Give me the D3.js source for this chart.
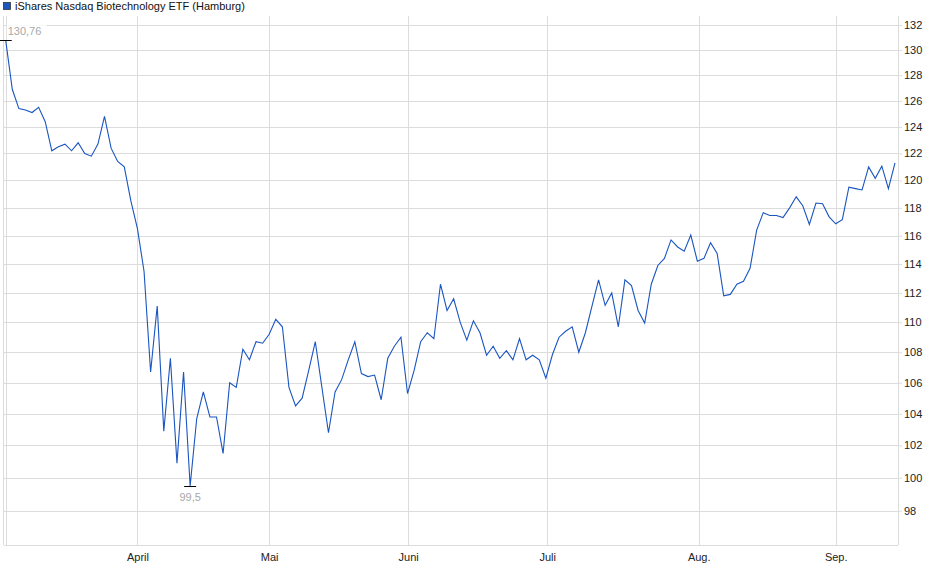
<!DOCTYPE html>
<html><head><meta charset="utf-8">
<script src="https://cdn.jsdelivr.net/npm/d3@7"></script>
<style>body{margin:0;background:#fff}svg{font-family:"Liberation Sans",Arial,sans-serif}</style>
</head><body><svg id="c" width="940" height="579"></svg>
<script>
const title = "iShares Nasdaq Biotechnology ETF (Hamburg)";
const prices = [130.76,126.9,125.4,125.3,125.1,125.5,124.4,122.2,122.5,122.7,
122.2,122.8,122.0,121.8,122.7,124.8,122.4,121.4,121.0,118.5,
116.5,113.5,106.7,111.1,102.9,107.6,100.9,106.7,99.5,103.7,
105.4,103.8,103.8,101.5,106.0,105.7,108.2,107.5,108.7,108.6,
109.2,110.2,109.7,105.7,104.5,105.0,106.8,108.7,105.7,102.8,
105.4,106.2,107.5,108.7,106.6,106.4,106.5,104.9,107.6,108.4,
109.0,105.3,106.8,108.7,109.3,108.9,112.6,110.8,111.6,110.0,
108.8,110.1,109.3,107.8,108.4,107.6,108.1,107.5,108.9,107.5,
107.8,107.5,106.3,107.85,109.0,109.4,109.7,108.0,109.3,111.1,
112.9,111.15,112.0,109.7,112.9,112.5,110.8,109.95,112.6,113.9,
114.4,115.7,115.2,114.9,116.05,114.2,114.4,115.5,114.75,111.8,
111.9,112.6,112.8,113.7,116.4,117.65,117.45,117.45,117.3,118.0,
118.8,118.15,116.8,118.35,118.3,117.35,116.85,117.15,119.5,119.4,
119.3,121.0,120.15,121.05,119.4,121.3];
const monthLabels = ["April","Mai","Juni","Juli","Aug.","Sep."];
const monthIndex = [20,40,61.1,82.2,105.2,126];
const yTicks = d3.range(98,133,2);

const svg = d3.select("#c");
const L=4, R=898, T=16, B=545;
const x = d3.scaleLinear().domain([0,prices.length-1]).range([5.7,895]);
const y = d3.scaleLog().domain([95.96,132.73]).range([B,T]);

const grid = svg.append("g").attr("stroke","#dcdcdc").attr("stroke-width",1).attr("shape-rendering","crispEdges");
yTicks.forEach(t=>grid.append("line").attr("x1",L).attr("x2",R).attr("y1",Math.round(y(t))+0.5).attr("y2",Math.round(y(t))+0.5));
monthIndex.forEach(i=>grid.append("line").attr("y1",T).attr("y2",B).attr("x1",Math.round(x(i))+0.5).attr("x2",Math.round(x(i))+0.5));
grid.append("line").attr("y1",T).attr("y2",B).attr("x1",6.5).attr("x2",6.5);
grid.append("line").attr("y1",T).attr("y2",B).attr("x1",3.5).attr("x2",3.5);
grid.append("line").attr("y1",T).attr("y2",B).attr("x1",R+0.5).attr("x2",R+0.5);
grid.append("line").attr("y1",B+0.5).attr("y2",B+0.5).attr("x1",L).attr("x2",R);

const yAxis = d3.axisRight(y).tickValues(yTicks).tickSize(4).tickFormat(d3.format("d"));
const ya = svg.append("g").attr("transform",`translate(${R},0)`).call(yAxis);
ya.select(".domain").remove();
ya.selectAll("line").attr("stroke","#dcdcdc");
ya.selectAll("text").attr("font-size",11).attr("fill","#222").attr("x",6);

const xAxis = d3.axisBottom(x).tickValues(monthIndex).tickSize(0).tickFormat((d,i)=>monthLabels[i]);
const xa = svg.append("g").attr("transform",`translate(0,${B})`).call(xAxis);
xa.select(".domain").remove();
xa.selectAll("text").attr("font-size",11).attr("fill","#222").attr("dy","1.2em");

svg.append("path").datum(prices).attr("fill","none").attr("stroke","#1a55c0").attr("stroke-width",1.1)
  .attr("d",d3.line().x((d,i)=>x(i)).y(d=>y(d)));

const iMax = d3.maxIndex(prices), iMin = d3.minIndex(prices);
[[iMax,-1],[iMin,1]].forEach(([i,dir])=>{
  svg.append("line").attr("x1",x(i)-6).attr("x2",x(i)+6).attr("y1",Math.round(y(prices[i]))+0.5).attr("y2",Math.round(y(prices[i]))+0.5).attr("stroke","#000");
});
svg.append("rect").attr("x",x(iMax)+1).attr("y",y(prices[iMax])-17).attr("width",40).attr("height",14).attr("fill","#fff").attr("opacity",0.8);
svg.append("text").attr("x",x(iMax)+2).attr("y",y(prices[iMax])-5).attr("font-size",11).attr("fill","#a8a8a8").text(d3.format(",.2f")(prices[iMax]).replace(".",","));
svg.append("text").attr("x",x(iMin)).attr("y",y(prices[iMin])+15).attr("text-anchor","middle").attr("font-size",11).attr("fill","#a8a8a8").text(String(prices[iMin]).replace(".",","));

svg.append("rect").attr("x",3.5).attr("y",2.5).attr("width",7).attr("height",7).attr("fill","#1a55c0").attr("stroke","#333").attr("stroke-width",0.8);
svg.append("text").attr("x",15).attr("y",10).attr("font-size",11).attr("fill","#111").text(title);
</script></body></html>
